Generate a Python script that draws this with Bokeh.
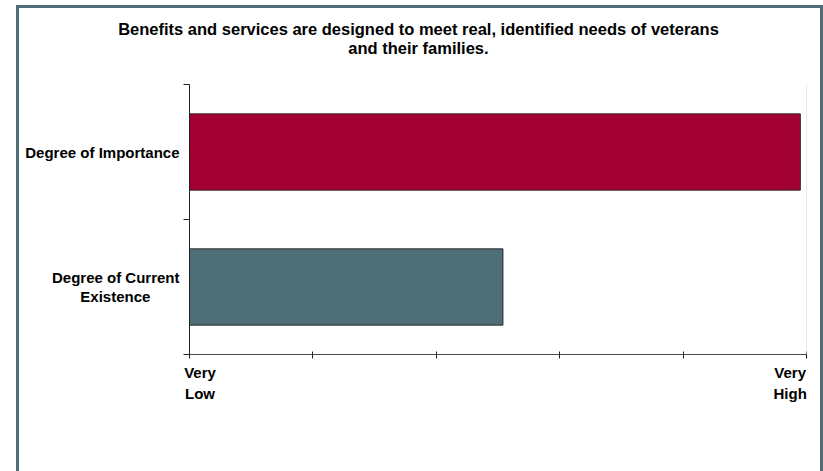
from bokeh.plotting import figure
from bokeh.models import Range1d, FixedTicker, LinearAxis, Span, ColumnDataSource
from bokeh.embed import file_html
from bokeh.resources import INLINE

# ---- data ----
title_lines = ["Benefits and services are designed to meet real, identified needs of veterans",
               "and their families."]
categories = ["Degree of Current Existence", "Degree of Importance"]   # bottom -> top
category_lines = [["Degree of Current", "Existence"], ["Degree of Importance"]]
values = [2.54, 4.95]
bar_colors = ["#4f6f78", "#a30033"]
x_ticks = [0, 1, 2, 3, 4, 5]
x_tick_labels = ["Very\nLow", "", "", "", "", "Very\nHigh"]

# ---- layout ----
W, H = 823, 471
FL, FR, FT, FB = 189, 806, 84, 354
FONT = "Liberation Sans"
FRAME_COLOR = "#4f6f76"
N = len(categories)
PX = (x_ticks[-1] - x_ticks[0]) / (FR - FL)      # data units per pixel on x
NBSP = "\u00a0"

p = figure(width=W, height=H, y_range=Range1d(0, N),
           x_range=Range1d(x_ticks[0], x_ticks[-1]), output_backend="svg",
           toolbar_location=None,
           min_border_left=FL, min_border_right=W - FR,
           min_border_top=FT, min_border_bottom=H - FB)
p.grid.visible = False
p.outline_line_color = None
p.background_fill_color = "white"
p.border_fill_alpha = 0
g = "linear-gradient({0}, {0})".format(FRAME_COLOR)
p.styles = {
    "background-color": "white",
    "background-image": ", ".join([g, g, g]),
    "background-repeat": "no-repeat",
    "background-size": "3px 480px, 807px 3px, 3px 480px",
    "background-position": "16px 5px, 16px 5px, 820px 5px",
}

src = ColumnDataSource(dict(pos=[i + 0.5 for i in range(N)], val=values, color=bar_colors,
                            cat=categories))
p.hbar(y="pos", left=0, right="val", height=0.565, fill_color="color",
       line_color="#2b2b2b", line_width=1, source=src)

p.add_layout(Span(location=x_ticks[-1], dimension="height", line_color="#d4d4d4", line_width=1))

def style_labels(ax, size, line_height):
    ax.major_label_text_font = FONT
    ax.major_label_text_font_style = "bold"
    ax.major_label_text_font_size = size
    ax.major_label_text_color = "black"
    ax.major_label_text_line_height = line_height

def bare(ax):
    ax.axis_line_color = None
    ax.major_tick_line_color = None
    ax.minor_tick_line_color = None
    ax.major_tick_in = 0
    ax.major_tick_out = 0

# x axis: tick marks
xa = p.xaxis[0]
xa.ticker = FixedTicker(ticks=x_ticks)
xa.major_label_overrides = {t: "" for t in x_ticks}
xa.major_tick_in = 3
xa.major_tick_out = 4
xa.major_label_standoff = 0
xa.minor_tick_line_color = None
xa.axis_line_color = "#4a4a4a"
xa.major_tick_line_color = "#202020"

# x axis: end labels (first left-aligned, last right-aligned to their ticks)
shift_px = {0: 10.5, len(x_ticks) - 1: -16.3}
xl_pos, xl_map = [], {}
for i, (tv, tl) in enumerate(zip(x_ticks, x_tick_labels)):
    if tl:
        pos = tv + shift_px.get(i, 0) * PX
        xl_pos.append(pos)
        xl_map[pos] = tl
xa2 = LinearAxis(ticker=FixedTicker(ticks=xl_pos), major_label_overrides=xl_map,
                 major_label_standoff=5)
bare(xa2)
style_labels(xa2, "15px", 1.24)
p.add_layout(xa2, "below")

# y axis: tick marks at category boundaries
ya = p.yaxis[0]
ya.ticker = FixedTicker(ticks=list(range(N + 1)))
ya.major_label_overrides = {i: "" for i in range(N + 1)}
ya.major_tick_out = 6
ya.major_tick_in = 0
ya.major_label_standoff = 0
ya.minor_tick_line_color = None
ya.axis_line_color = "#202020"
ya.major_tick_line_color = "#202020"

# y axis: category names at band centres (second line visually centred under the first)
def centred_block(lines):
    if len(lines) < 2:
        return lines[0]
    out = [lines[0]]
    for ln in lines[1:]:
        pad = max(0, round((len(lines[0]) - len(ln)) * 0.85))
        out.append(ln + NBSP * pad)
    return "\n".join(out)

yc_pos = [i + 0.5 for i in range(N)]
ya2 = LinearAxis(ticker=FixedTicker(ticks=yc_pos),
                 major_label_overrides={yc_pos[i]: centred_block(category_lines[i]) for i in range(N)},
                 major_label_standoff=4)
bare(ya2)
style_labels(ya2, "15px", 1.14)
p.add_layout(ya2, "left")

# title, centred at x=418px, as a label-only axis above the plot area
t_pos = [x_ticks[0] + (418 - FL) * PX]
ta = LinearAxis(ticker=FixedTicker(ticks=t_pos),
                major_label_overrides={t_pos[0]: "\n".join(title_lines)},
                major_label_standoff=28)
bare(ta)
style_labels(ta, "16.5px", 1.05)
p.add_layout(ta, "above")

open("out.html", "w").write(file_html(p, INLINE))
